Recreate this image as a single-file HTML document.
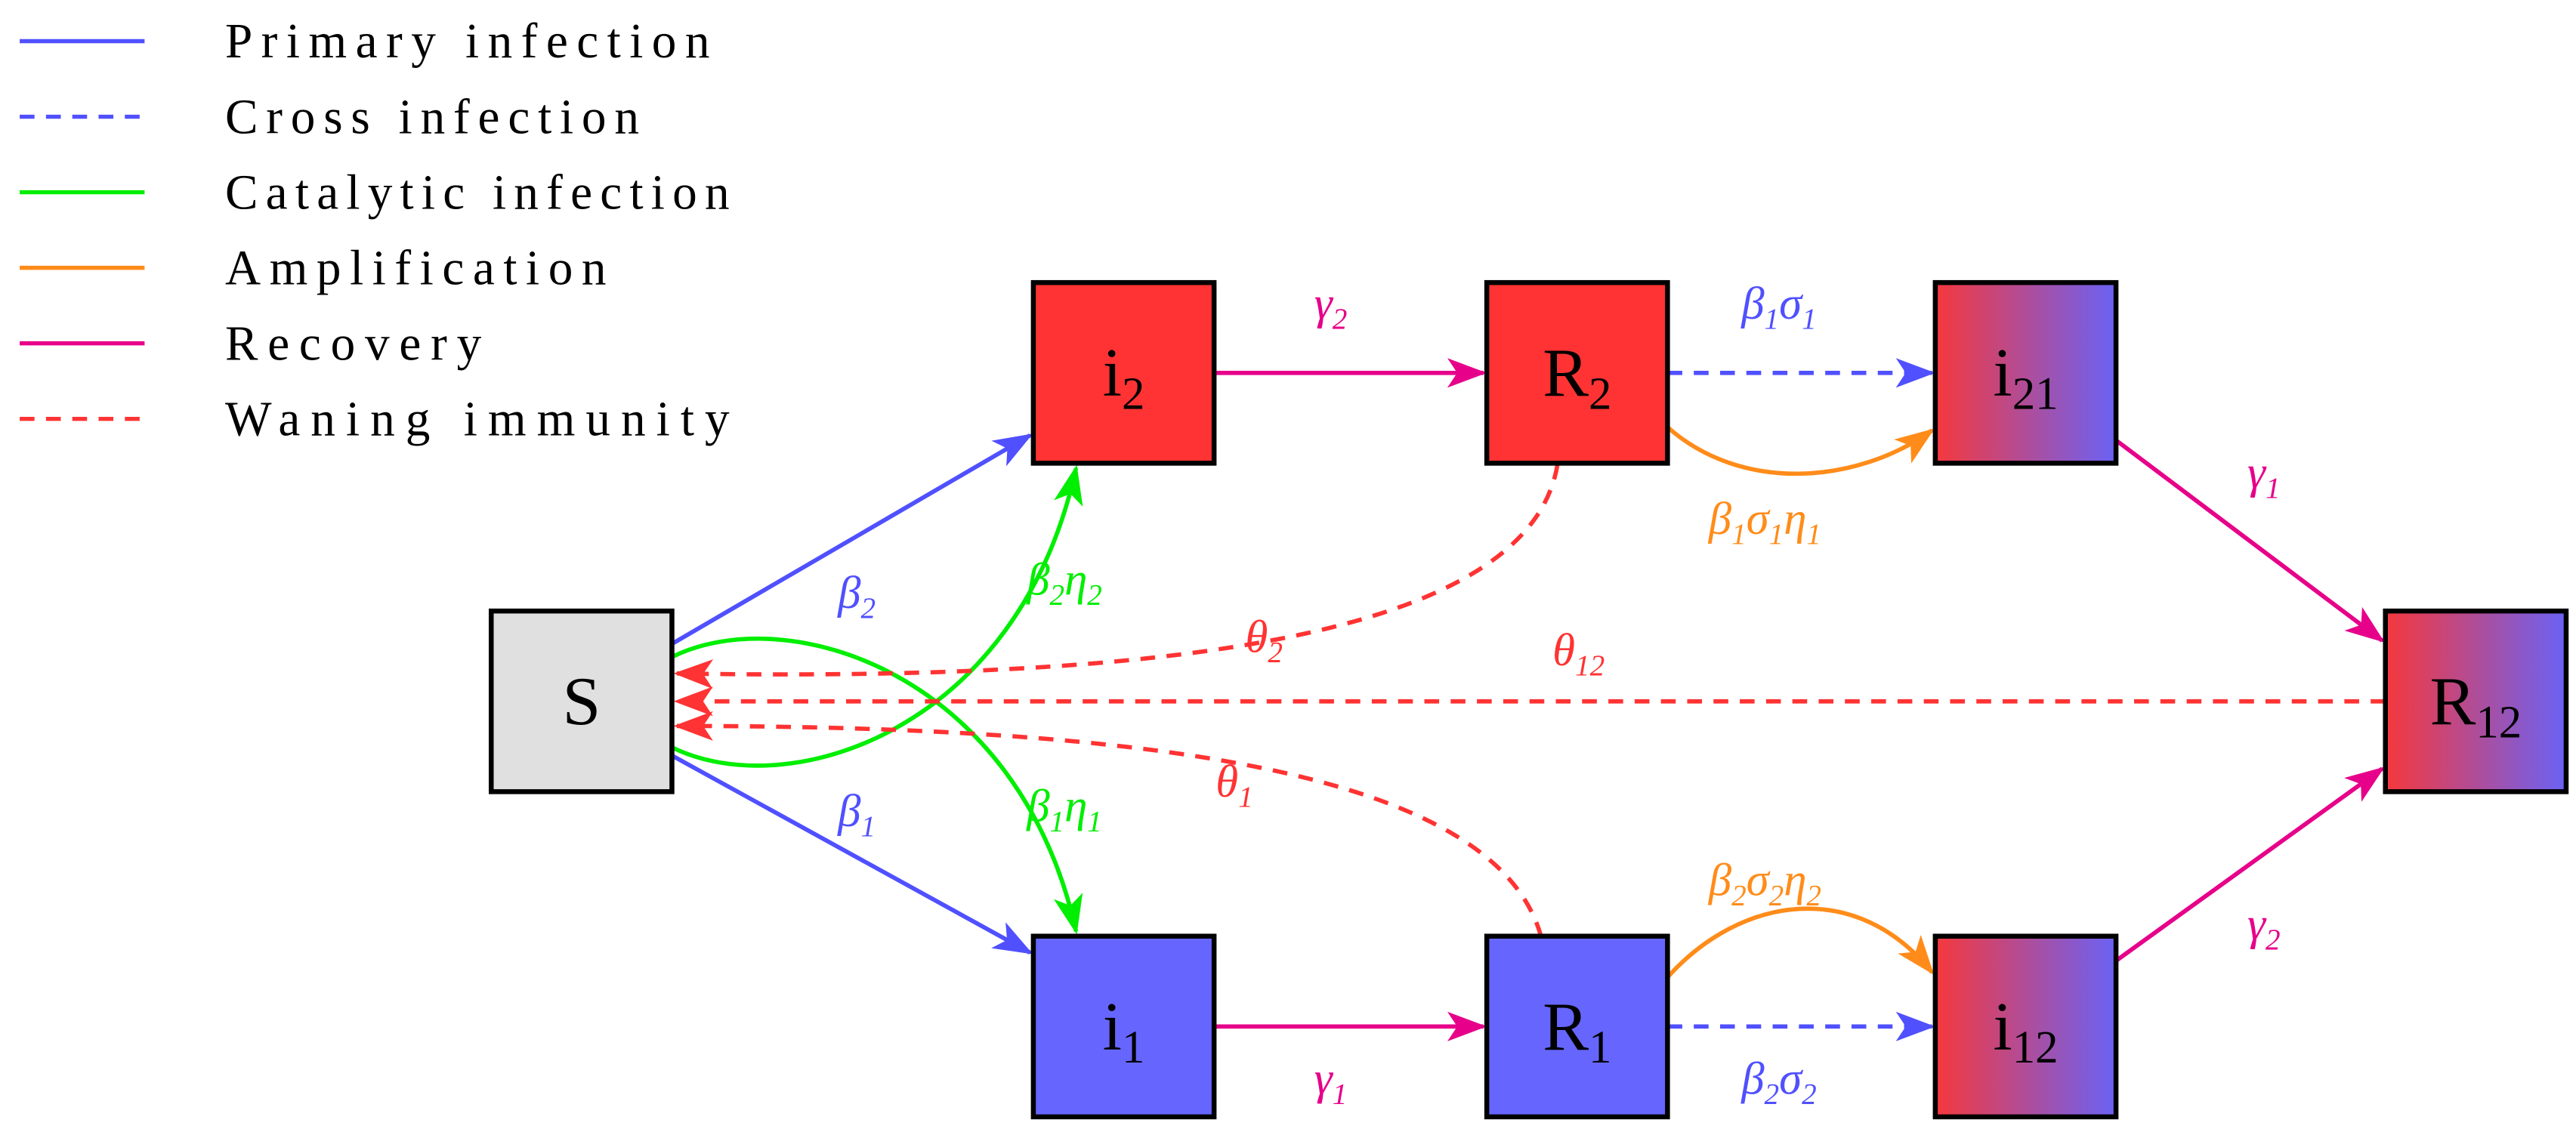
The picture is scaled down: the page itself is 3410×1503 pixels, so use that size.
<!DOCTYPE html>
<html><head><meta charset="utf-8"><style>
html,body{margin:0;padding:0;background:#fff;}
svg{display:block;}
text{font-family:"Liberation Serif",serif;}
.lab{font-style:italic;font-size:28px;}
.node{font-size:42px;fill:#000;}
</style></head><body>
<svg width="3410" height="1503" viewBox="0 0 1568 691" xmlns="http://www.w3.org/2000/svg">
<defs>
<linearGradient id="g" x1="0" x2="1" y1="0" y2="0"><stop offset="0" stop-color="#f5383c"/><stop offset="1" stop-color="#6a62f5"/></linearGradient>
<marker id="ab" markerWidth="24" markerHeight="18" refX="22" refY="9" orient="auto" markerUnits="userSpaceOnUse"><path d="M0,0 L24,9 L0,18 L6,9 Z" fill="#5050ff"/></marker>
<marker id="ag" markerWidth="24" markerHeight="18" refX="22" refY="9" orient="auto" markerUnits="userSpaceOnUse"><path d="M0,0 L24,9 L0,18 L6,9 Z" fill="#00ee00"/></marker>
<marker id="am" markerWidth="24" markerHeight="18" refX="22" refY="9" orient="auto" markerUnits="userSpaceOnUse"><path d="M0,0 L24,9 L0,18 L6,9 Z" fill="#e6008a"/></marker>
<marker id="ao" markerWidth="24" markerHeight="18" refX="22" refY="9" orient="auto" markerUnits="userSpaceOnUse"><path d="M0,0 L24,9 L0,18 L6,9 Z" fill="#ff8c1a"/></marker>
<marker id="ar" markerWidth="24" markerHeight="18" refX="22" refY="9" orient="auto" markerUnits="userSpaceOnUse"><path d="M0,0 L24,9 L0,18 L6,9 Z" fill="#ff3333"/></marker>
</defs>
<!-- legend -->
<g stroke-width="2.5" fill="none">
<line x1="12" y1="25" x2="88" y2="25" stroke="#5050ff"/>
<line x1="12" y1="71" x2="88" y2="71" stroke="#5050ff" stroke-dasharray="9,7"/>
<line x1="12" y1="117" x2="88" y2="117" stroke="#00ee00"/>
<line x1="12" y1="163" x2="88" y2="163" stroke="#ff8c1a"/>
<line x1="12" y1="209" x2="88" y2="209" stroke="#e6008a"/>
<line x1="12" y1="255" x2="88" y2="255" stroke="#ff3333" stroke-dasharray="9,7"/>
</g>
<g font-size="30" fill="#000">
<text x="137" y="35" textLength="295">Primary infection</text>
<text x="137" y="81" textLength="252">Cross infection</text>
<text x="137" y="127" textLength="307">Catalytic infection</text>
<text x="137" y="173" textLength="232">Amplification</text>
<text x="137" y="219" textLength="156">Recovery</text>
<text x="137" y="265" textLength="307">Waning immunity</text>
</g>
<!-- edges -->
<g fill="none" stroke-width="2.6">
<line x1="409" y1="392" x2="627" y2="265" stroke="#5050ff" marker-end="url(#ab)"/>
<line x1="409" y1="460" x2="627" y2="580" stroke="#5050ff" marker-end="url(#ab)"/>
<path d="M409,400 C480,365 620,410 655,567" stroke="#00ee00" marker-end="url(#ag)"/>
<path d="M409,455 C480,490 620,445 655,285" stroke="#00ee00" marker-end="url(#ag)"/>
<line x1="739" y1="227" x2="903" y2="227" stroke="#e6008a" marker-end="url(#am)"/>
<line x1="739" y1="625" x2="903" y2="625" stroke="#e6008a" marker-end="url(#am)"/>
<line x1="1015" y1="227" x2="1176" y2="227" stroke="#5050ff" stroke-dasharray="9,7" marker-end="url(#ab)"/>
<line x1="1015" y1="625" x2="1176" y2="625" stroke="#5050ff" stroke-dasharray="9,7" marker-end="url(#ab)"/>
<path d="M1015,260 C1060,300 1130,295 1176,262" stroke="#ff8c1a" marker-end="url(#ao)"/>
<path d="M1015,595 C1060,545 1130,535 1176,592" stroke="#ff8c1a" marker-end="url(#ao)"/>
<line x1="1288" y1="268" x2="1450" y2="390" stroke="#e6008a" marker-end="url(#am)"/>
<line x1="1288" y1="585" x2="1450" y2="468" stroke="#e6008a" marker-end="url(#am)"/>
<line x1="1452" y1="427" x2="412" y2="427" stroke="#ff3333" stroke-dasharray="9,7" marker-end="url(#ar)"/>
<path d="M948,283 C930,390 700,415 412,410" stroke="#ff3333" stroke-dasharray="9,7" marker-end="url(#ar)"/>
<path d="M938,570 C910,470 700,442 412,442" stroke="#ff3333" stroke-dasharray="9,7" marker-end="url(#ar)"/>
</g>
<!-- edge labels -->
<g class="lab">
<text x="510" y="370" fill="#5050ff">β<tspan font-size="18" dy="6">2</tspan></text>
<text x="510" y="503" fill="#5050ff">β<tspan font-size="18" dy="6">1</tspan></text>
<text x="625" y="362" fill="#00ee00">β<tspan font-size="18" dy="6">2</tspan><tspan dy="-6">η</tspan><tspan font-size="18" dy="6">2</tspan></text>
<text x="625" y="500" fill="#00ee00">β<tspan font-size="18" dy="6">1</tspan><tspan dy="-6">η</tspan><tspan font-size="18" dy="6">1</tspan></text>
<text x="800" y="194" fill="#e6008a">γ<tspan font-size="18" dy="6">2</tspan></text>
<text x="800" y="666" fill="#e6008a">γ<tspan font-size="18" dy="6">1</tspan></text>
<text x="1060" y="194" fill="#5050ff">β<tspan font-size="18" dy="6">1</tspan><tspan dy="-6">σ</tspan><tspan font-size="18" dy="6">1</tspan></text>
<text x="1060" y="666" fill="#5050ff">β<tspan font-size="18" dy="6">2</tspan><tspan dy="-6">σ</tspan><tspan font-size="18" dy="6">2</tspan></text>
<text x="1040" y="325" fill="#ff8c1a">β<tspan font-size="18" dy="6">1</tspan><tspan dy="-6">σ</tspan><tspan font-size="18" dy="6">1</tspan><tspan dy="-6">η</tspan><tspan font-size="18" dy="6">1</tspan></text>
<text x="1040" y="545" fill="#ff8c1a">β<tspan font-size="18" dy="6">2</tspan><tspan dy="-6">σ</tspan><tspan font-size="18" dy="6">2</tspan><tspan dy="-6">η</tspan><tspan font-size="18" dy="6">2</tspan></text>
<text x="1368" y="297" fill="#e6008a">γ<tspan font-size="18" dy="6">1</tspan></text>
<text x="1368" y="572" fill="#e6008a">γ<tspan font-size="18" dy="6">2</tspan></text>
<text x="758" y="397" fill="#ff3333">θ<tspan font-size="18" dy="6">2</tspan></text>
<text x="945" y="405" fill="#ff3333">θ<tspan font-size="18" dy="6">12</tspan></text>
<text x="740" y="485" fill="#ff3333">θ<tspan font-size="18" dy="6">1</tspan></text>
</g>
<!-- nodes -->
<g stroke="#000" stroke-width="3">
<rect x="299" y="372" width="110" height="110" fill="#e0e0e0"/>
<rect x="629" y="172" width="110" height="110" fill="#ff3333"/>
<rect x="905" y="172" width="110" height="110" fill="#ff3333"/>
<rect x="1178" y="172" width="110" height="110" fill="url(#g)"/>
<rect x="1452" y="372" width="110" height="110" fill="url(#g)"/>
<rect x="629" y="570" width="110" height="110" fill="#6666ff"/>
<rect x="905" y="570" width="110" height="110" fill="#6666ff"/>
<rect x="1178" y="570" width="110" height="110" fill="url(#g)"/>
</g>
<g class="node" text-anchor="middle">
<text x="354" y="441">S</text>
<text x="684" y="241">i<tspan font-size="28" dy="8">2</tspan></text>
<text x="960" y="241">R<tspan font-size="28" dy="8">2</tspan></text>
<text x="1233" y="241">i<tspan font-size="28" dy="8">21</tspan></text>
<text x="1507" y="441">R<tspan font-size="28" dy="8">12</tspan></text>
<text x="684" y="639">i<tspan font-size="28" dy="8">1</tspan></text>
<text x="960" y="639">R<tspan font-size="28" dy="8">1</tspan></text>
<text x="1233" y="639">i<tspan font-size="28" dy="8">12</tspan></text>
</g>
</svg>
</body></html>
